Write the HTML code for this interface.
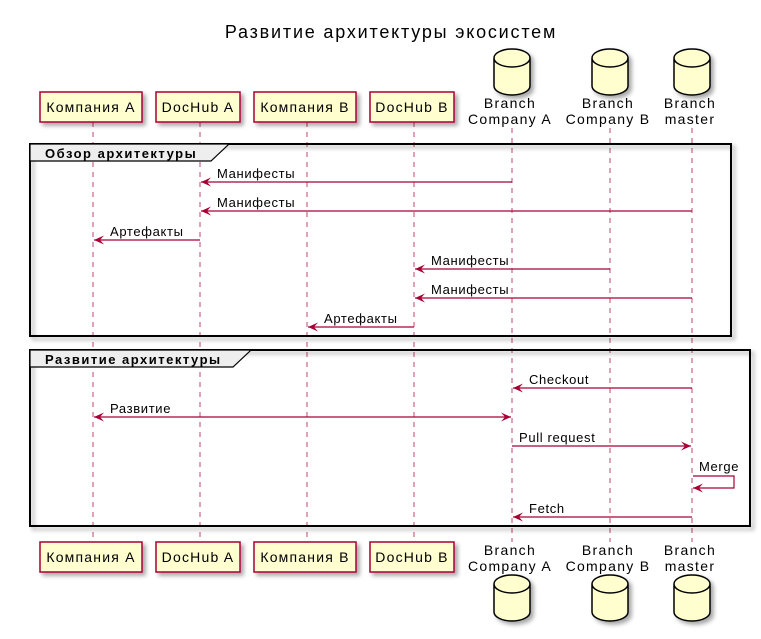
<!DOCTYPE html><html><head><meta charset="utf-8"><style>body{margin:0;background:#fff}svg{display:block}text{font-family:"Liberation Sans","DejaVu Sans",sans-serif;fill:#000}</style></head><body>
<svg width="761" height="639" viewBox="0 0 761 639" xmlns="http://www.w3.org/2000/svg">
<defs>
<filter id="sh" x="-10%" y="-10%" width="130%" height="130%"><feDropShadow dx="3" dy="3" stdDeviation="2" flood-color="#000" flood-opacity="0.35"/></filter>
<marker id="ar" markerWidth="12" markerHeight="12" refX="10" refY="5" orient="auto-start-reverse" markerUnits="userSpaceOnUse"><path d="M0,0.5 L10,5 L0,9.5 L4,5 Z" fill="#A80036"/></marker>
</defs>
<text x="391" y="38" font-size="18" text-anchor="middle" letter-spacing="1.8">Развитие архитектуры экосистем</text>
<g stroke="#A80036" stroke-opacity="0.6" stroke-dasharray="5,5" stroke-width="1.2">
<line x1="93" y1="122" x2="93" y2="542"/><line x1="200" y1="122" x2="200" y2="542"/><line x1="307" y1="122" x2="307" y2="542"/><line x1="414" y1="122" x2="414" y2="542"/><line x1="512" y1="128" x2="512" y2="542"/><line x1="610" y1="128" x2="610" y2="542"/><line x1="692" y1="128" x2="692" y2="542"/>
</g>
<g fill="#FEFECE" stroke="#A80036" stroke-width="1.5" filter="url(#sh)">
<rect x="40" y="92" width="102" height="30"/><rect x="156" y="92" width="84" height="30"/><rect x="254" y="92" width="102" height="30"/><rect x="370" y="92" width="84" height="30"/>
<rect x="40" y="542" width="102" height="30"/><rect x="156" y="542" width="84" height="30"/><rect x="254" y="542" width="102" height="30"/><rect x="370" y="542" width="84" height="30"/>
</g>
<g font-size="14" text-anchor="middle" letter-spacing="1.2">
<text x="91" y="112">Компания А</text><text x="198" y="112">DocHub A</text><text x="305" y="112">Компания В</text><text x="412" y="112">DocHub B</text>
<text x="91" y="562">Компания А</text><text x="198" y="562">DocHub A</text><text x="305" y="562">Компания В</text><text x="412" y="562">DocHub B</text>
</g>
<g fill="#FEFECE" stroke="#000" stroke-width="1.5" filter="url(#sh)">
<path d="M494,58 v28 a18,9 0 0 0 36,0 v-28 a18,9 0 0 0 -36,0 a18,9 0 0 0 36,0"/>
<path d="M592,58 v28 a18,9 0 0 0 36,0 v-28 a18,9 0 0 0 -36,0 a18,9 0 0 0 36,0"/>
<path d="M674,58 v28 a18,9 0 0 0 36,0 v-28 a18,9 0 0 0 -36,0 a18,9 0 0 0 36,0"/>
<path d="M494,584 v28 a18,9 0 0 0 36,0 v-28 a18,9 0 0 0 -36,0 a18,9 0 0 0 36,0"/>
<path d="M592,584 v28 a18,9 0 0 0 36,0 v-28 a18,9 0 0 0 -36,0 a18,9 0 0 0 36,0"/>
<path d="M674,584 v28 a18,9 0 0 0 36,0 v-28 a18,9 0 0 0 -36,0 a18,9 0 0 0 36,0"/>
</g>
<g font-size="14" text-anchor="middle" letter-spacing="1.3">
<text x="510" y="108">Branch</text><text x="510" y="124">Company A</text>
<text x="608" y="108">Branch</text><text x="608" y="124">Company B</text>
<text x="690" y="108">Branch</text><text x="690" y="124">master</text>
<text x="510" y="555">Branch</text><text x="510" y="571">Company A</text>
<text x="608" y="555">Branch</text><text x="608" y="571">Company B</text>
<text x="690" y="555">Branch</text><text x="690" y="571">master</text>
</g>
<g fill="none" stroke="#000" stroke-width="2" filter="url(#sh)">
<rect x="30" y="144" width="701" height="192"/>
<rect x="30" y="350" width="720" height="176"/>
</g>
<path d="M30,144 H228 V145 L211,161 H30 Z" fill="#EEEEEE" stroke="#000" stroke-width="1.2"/>
<path d="M30,350 H250 V351 L233,367 H30 Z" fill="#EEEEEE" stroke="#000" stroke-width="1.2"/>
<g font-size="13" font-weight="bold" letter-spacing="1.5">
<text x="45" y="158">Обзор архитектуры</text>
<text x="45" y="364">Развитие архитектуры</text>
</g>
<g stroke="#A80036" stroke-width="1.2" fill="none" marker-end="url(#ar)">
<line x1="512" y1="182" x2="201" y2="182"/>
<line x1="692" y1="211" x2="201" y2="211"/>
<line x1="200" y1="240" x2="94" y2="240"/>
<line x1="610" y1="269" x2="415" y2="269"/>
<line x1="692" y1="298" x2="415" y2="298"/>
<line x1="414" y1="327" x2="308" y2="327"/>
<line x1="692" y1="388" x2="513" y2="388"/>
<line x1="94" y1="417" x2="511" y2="417" marker-start="url(#ar)"/>
<line x1="512" y1="446" x2="691" y2="446"/>
<path d="M693,476 H734 V488 H693"/>
<line x1="692" y1="517" x2="513" y2="517"/>
</g>
<g font-size="13" letter-spacing="0.65">
<text x="217" y="178">Манифесты</text><text x="217" y="207">Манифесты</text><text x="110" y="236">Артефакты</text>
<text x="431" y="265">Манифесты</text><text x="431" y="294">Манифесты</text><text x="324" y="323">Артефакты</text>
<text x="529" y="384">Checkout</text><text x="110" y="413">Развитие</text><text x="519" y="442">Pull request</text>
<text x="699" y="471">Merge</text><text x="529" y="513">Fetch</text>
</g>
</svg></body></html>
